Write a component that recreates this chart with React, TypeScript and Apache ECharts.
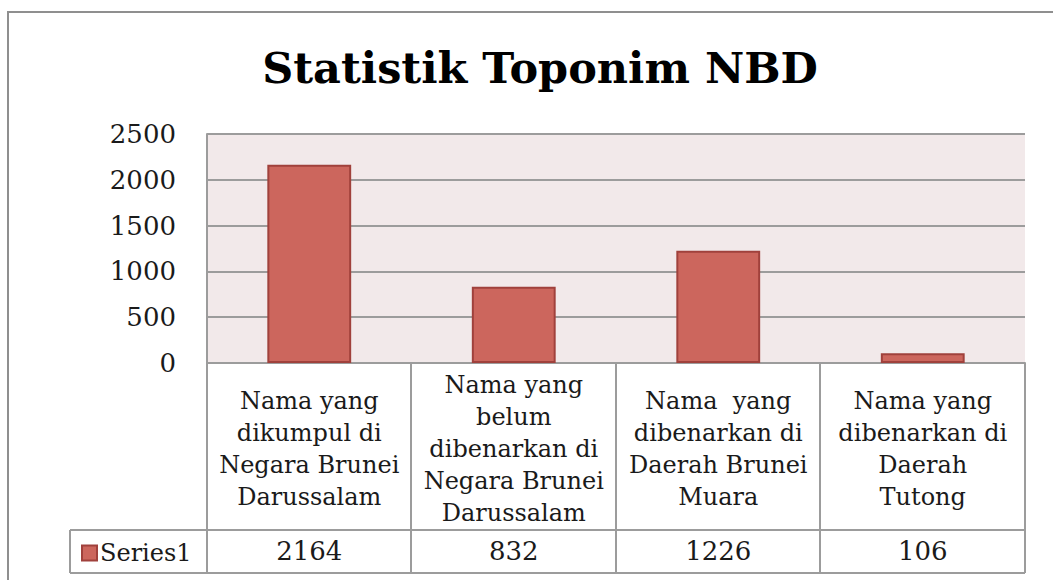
import React, { useEffect, useRef } from "react";
import * as echarts from "echarts";

const title = "Statistik Toponim NBD";
const categories = [
  "Nama yang\ndikumpul di\nNegara Brunei\nDarussalam",
  "Nama yang\nbelum\ndibenarkan di\nNegara Brunei\nDarussalam",
  "Nama  yang\ndibenarkan di\nDaerah Brunei\nMuara",
  "Nama yang\ndibenarkan di\nDaerah\nTutong",
];
const seriesName = "Series1";
const values = [2164, 832, 1226, 106];
const yTicks = { min: 0, max: 2500, interval: 500 };

const FONT = "DejaVu Serif";
const GRID_COLOR = "#9c9c9c";
const L = 207, R = 1025, T = 134, B = 363;
const ROW1 = 530, ROW2 = 573, LEG_L = 70;
const COLS = [207, 411, 616, 820, 1025];

export default function App() {
  const ref = useRef<HTMLDivElement>(null);
  useEffect(() => {
    if (!ref.current) return;
    const chart = echarts.init(ref.current, null, { renderer: "svg" });
    const line = (x1: number, y1: number, x2: number, y2: number) => ({
      type: "line",
      shape: { x1, y1, x2, y2 },
      style: { stroke: GRID_COLOR, lineWidth: 2 },
      silent: true,
    });
    const graphics: any[] = [
      {
        type: "rect",
        shape: { x: 8, y: 12, width: 1200, height: 700 },
        style: { fill: "none", stroke: "#8f8f8f", lineWidth: 2 },
        silent: true,
      },
      line(LEG_L, ROW1, R, ROW1),
      line(LEG_L, ROW2, R, ROW2),
      line(LEG_L, ROW1, LEG_L, ROW2),
      ...COLS.map((x) => line(x, B, x, ROW2)),
    ];
    chart.setOption({
      animation: false,
      backgroundColor: "#ffffff",
      title: {
        text: title,
        left: 535,
        top: 41,
        textAlign: "center",
        textStyle: { fontFamily: FONT, fontWeight: "bold", fontSize: 43, color: "#000" },
      },
      legend: {
        data: [seriesName],
        left: 76,
        top: 536,
        icon: "rect",
        itemWidth: 15,
        itemHeight: 15,
        itemGap: 6,
        textStyle: { fontFamily: FONT, fontSize: 24, color: "#1a1a1a", padding: [0, 0, 0, -2] },
      },
      grid: {
        left: L,
        right: 1053 - R,
        top: T,
        bottom: 580 - B,
        show: true,
        backgroundColor: "#f2e9ea",
        borderWidth: 0,
      },
      xAxis: [
        {
          type: "category",
          data: categories,
          position: "bottom",
          axisLine: { show: true, lineStyle: { color: GRID_COLOR, width: 2 } },
          axisTick: { show: false },
          axisLabel: {
            interval: 0,
            margin: 86,
            verticalAlign: "middle",
            fontFamily: FONT,
            fontSize: 24,
            lineHeight: 32,
            color: "#1a1a1a",
            align: "center",
          },
        },
        {
          type: "category",
          data: categories,
          position: "bottom",
          axisLine: { show: false },
          axisTick: { show: false },
          axisLabel: {
            interval: 0,
            margin: 188,
            verticalAlign: "middle",
            fontFamily: FONT,
            fontSize: 26,
            color: "#1a1a1a",
            formatter: (_v: string, i: number) => String(values[i]),
          },
        },
      ],
      yAxis: {
        type: "value",
        min: yTicks.min,
        max: yTicks.max,
        interval: yTicks.interval,
        axisLine: { show: true, lineStyle: { color: GRID_COLOR, width: 2 } },
        axisTick: { show: false },
        axisLabel: {
          margin: 31,
          fontFamily: FONT,
          fontSize: 26,
          color: "#1a1a1a",
          formatter: (v: number) => String(v),
        },
        splitLine: { lineStyle: { color: GRID_COLOR, width: 2 } },
      },
      series: [
        {
          name: seriesName,
          type: "bar",
          xAxisIndex: 0,
          data: values,
          barWidth: "41%",
          itemStyle: { color: "#cc665d", borderColor: "#a0413c", borderWidth: 2 },
        },
      ],
      graphic: graphics,
    });
    return () => chart.dispose();
  }, []);
  return (
    <div
      ref={ref}
      style={{ position: "fixed", left: 0, top: 0, width: 1053, height: 580 }}
    />
  );
}
